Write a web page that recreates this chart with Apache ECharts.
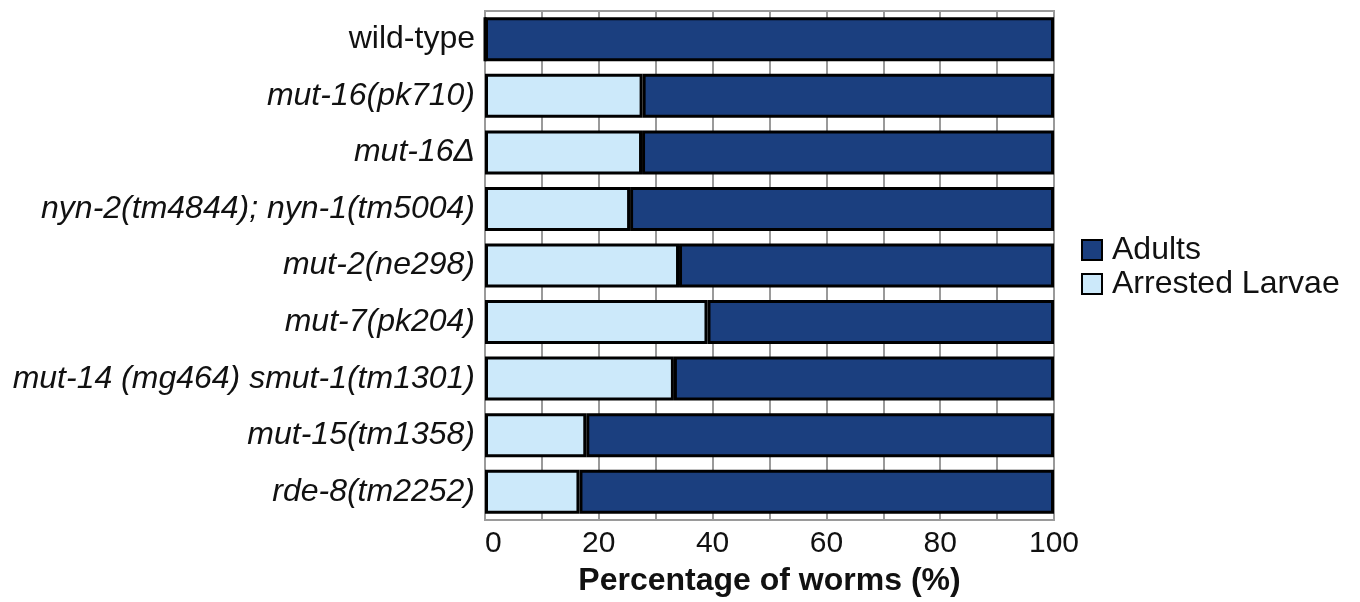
<!DOCTYPE html>
<html>
<head>
<meta charset="utf-8">
<script src="https://cdn.jsdelivr.net/npm/echarts@6/dist/echarts.min.js"></script>
<style>html,body{margin:0;padding:0;background:#fff;}#c{width:1360px;height:602px;}</style>
</head>
<body>
<div id="c"></div>
<script>
const categories = ["wild-type","mut-16(pk710)","mut-16\u0394","nyn-2(tm4844); nyn-1(tm5004)","mut-2(ne298)","mut-7(pk204)","mut-14 (mg464) smut-1(tm1301)","mut-15(tm1358)","rde-8(tm2252)"];
const arrestedLarvae = [0, 27.7, 27.6, 25.5, 34.1, 39.1, 33.2, 17.8, 16.6];
const adults = [100, 72.3, 72.4, 74.5, 65.9, 60.9, 66.8, 82.2, 83.4];
const xTicks = [0, 20, 40, 60, 80, 100];

const chart = echarts.init(document.getElementById('c'));
const font = '"Liberation Sans", Arial, sans-serif';
chart.setOption({
  animation: false,
  grid: {left: 485, right: 306, top: 11, bottom: 82, show: true, borderColor: '#9a9a9a', borderWidth: 2, backgroundColor: 'transparent', containLabel: false, outerBoundsMode: 'none'},
  legend: {
    data: ['Adults', 'Arrested Larvae'], orient: 'vertical', left: 1076, top: 228,
    itemWidth: 20, itemHeight: 20, itemGap: 0, icon: 'rect',
    itemStyle: {borderColor: '#000', borderWidth: 2},
    textStyle: {fontFamily: font, fontSize: 32, lineHeight: 34, color: '#111', padding: [0,0,0,5]}
  },
  xAxis: {
    type: 'value', min: 0, max: 100, interval: 10,
    name: 'Percentage of worms (%)', nameLocation: 'middle', nameGap: 45,
    nameTextStyle: {fontFamily: font, fontSize: 32, fontWeight: 'bold', color: '#111'},
    axisLine: {show: false}, axisTick: {show: false},
    axisLabel: {fontFamily: font, fontSize: 30, color: '#111', margin: 9, alignMinLabel: 'left',
      formatter: v => xTicks.indexOf(v) >= 0 ? String(v) : ''},
    splitLine: {show: true, lineStyle: {color: '#9a9a9a', width: 2}}
  },
  yAxis: {
    type: 'category', data: categories, inverse: true,
    axisLine: {show: false}, axisTick: {show: false},
    axisLabel: {margin: 10, formatter: (v, i) => i === 0 ? '{n|' + v + '}' : '{i|' + v + '}',
      rich: {n: {fontFamily: font, fontSize: 32, color: '#111'}, i: {fontFamily: font, fontSize: 32, fontStyle: 'italic', color: '#111'}}}
  },
  series: [
    {name: 'Arrested Larvae', type: 'bar', stack: 't', data: arrestedLarvae, barWidth: 44,
      itemStyle: {color: '#cce9fa', borderColor: '#000', borderWidth: 3}},
    {name: 'Adults', type: 'bar', stack: 't', data: adults, barWidth: 44,
      itemStyle: {color: '#1b3f7f', borderColor: '#000', borderWidth: 3}}
  ]
});
</script>
</body>
</html>
